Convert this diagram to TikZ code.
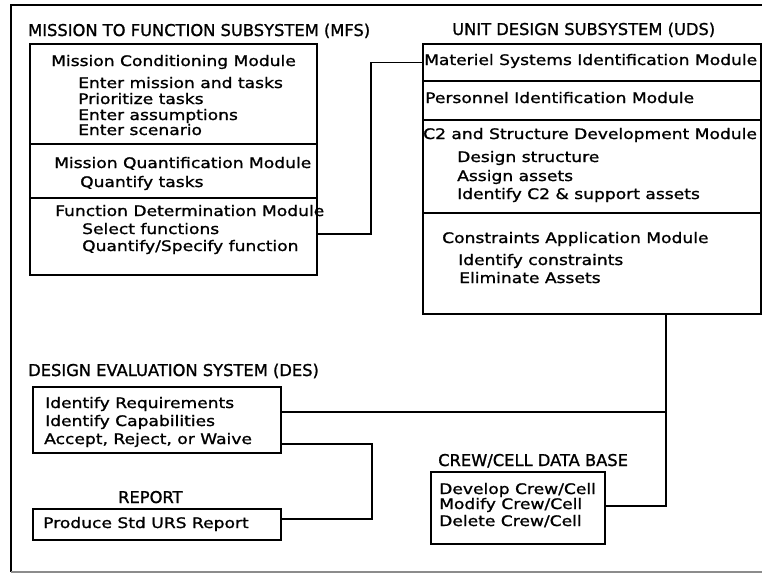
\documentclass[tikz,border=0pt]{standalone}
\usepackage{fontspec}
\setmainfont{DejaVu Sans}
\newfontfamily\bodyfnt{DejaVu Sans}[FakeStretch=1.18, FakeBold=1.2]
\newfontfamily\headfnt{DejaVu Sans}[FakeBold=1.2]

\begin{document}
\begin{tikzpicture}[x=1pt,y=-1pt,
  frame/.style={line width=1.2pt},
  section/.style={draw, line width=1.5pt, inner sep=0pt, anchor=north west},
  wire/.style={line width=1.5pt},
  head/.style={inner sep=0pt, anchor=base west, font={\headfnt\fontsize{16.3}{18}\selectfont}},
  txt/.style={inner sep=0pt, anchor=base west, font={\bodyfnt\fontsize{14.5}{17}\selectfont}},
]
\useasboundingbox (0,0) rectangle (762,573);

% outer frame
\draw[frame] (762,5) -- (11,5) -- (11,572);
\draw[frame, black!45] (11,572) -- (762,572);

% ---- Mission to Function Subsystem ----
\node[head] (mfsT) at (28,36) {MISSION TO FUNCTION SUBSYSTEM (MFS)};
\node[section, minimum width=287, minimum height=100] (mcm) at (29,43) {};
\node[section, minimum width=287, minimum height=54]  (mqm) at (29,143) {};
\node[section, minimum width=287, minimum height=77]  (fdm) at (29,197) {};

\node[txt] (mcmH) at (51,66)  {Mission Conditioning Module};
\node[txt] (mc1)  at (78,88)  {Enter mission and tasks};
\node[txt] (mc2)  at (78,104) {Prioritize tasks};
\node[txt] (mc3)  at (78,120) {Enter assumptions};
\node[txt] (mc4)  at (78,135) {Enter scenario};
\node[txt] (mqmH) at (54,168) {Mission Quantification Module};
\node[txt] (mq1)  at (80,187) {Quantify tasks};
\node[txt] (fdmH) at (55,216) {Function Determination Module};
\node[txt] (fd1)  at (82,234) {Select functions};
\node[txt] (fd2)  at (82,251) {Quantify/Specify function};

% ---- Unit Design Subsystem ----
\node[head] (udsT) at (452,35) {UNIT DESIGN SUBSYSTEM (UDS)};
\node[section, minimum width=338, minimum height=37]  (msi) at (422,43) {};
\node[section, minimum width=338, minimum height=39]  (pim) at (422,80) {};
\node[section, minimum width=338, minimum height=93]  (c2m) at (422,119) {};
\node[section, minimum width=338, minimum height=101] (cam) at (422,212) {};

\node[txt] (msiH) at (424,65)  {Materiel Systems Identification Module};
\node[txt] (pimH) at (425,103) {Personnel Identification Module};
\node[txt] (c2mH) at (423,139) {C2 and Structure Development Module};
\node[txt] (c21)  at (457,162) {Design structure};
\node[txt] (c22)  at (457,181) {Assign assets};
\node[txt] (c23)  at (457,199) {Identify C2 \& support assets};
\node[txt] (camH) at (442,243) {Constraints Application Module};
\node[txt] (ca1)  at (458,265) {Identify constraints};
\node[txt] (ca2)  at (459,283) {Eliminate Assets};

% ---- Design Evaluation System ----
\node[head] (desT) at (28,376) {DESIGN EVALUATION SYSTEM (DES)};
\node[section, minimum width=248, minimum height=66] (des) at (32,386) {};
\node[txt] (de1) at (45,408) {Identify Requirements};
\node[txt] (de2) at (45,426) {Identify Capabilities};
\node[txt] (de3) at (44,444) {Accept, Reject, or Waive};

\node[head] (repT) at (118,503) {REPORT};
\node[section, minimum width=248, minimum height=31] (rep) at (32,508) {};
\node[txt] (re1) at (43,528) {Produce Std URS Report};

% ---- Crew/Cell data base ----
\node[head] (crwT) at (438,466) {CREW/CELL DATA BASE};
\node[section, minimum width=174, minimum height=72] (crw) at (430,471) {};
\node[txt] (cr1) at (439,494) {Develop Crew/Cell};
\node[txt] (cr2) at (439,509) {Modify Crew/Cell};
\node[txt] (cr3) at (439,526) {Delete Crew/Cell};

% ---- connectors ----
\coordinate (j1) at (371,234);
\draw[wire] (fdm.east |- j1) -- (j1) |- (msi.west);

\coordinate (bus) at (666,506);
\coordinate (tap) at (666,412);
\draw[wire] (cam.south -| bus) -- (bus) -- (crw.east |- bus);
\draw[wire] (des.east |- tap) -- (tap);

\coordinate (r1) at (372,444);
\coordinate (r2) at (372,519);
\draw[wire] (des.east |- r1) -- (r1) -- (r2) -- (rep.east |- r2);
\end{tikzpicture}
\end{document}
